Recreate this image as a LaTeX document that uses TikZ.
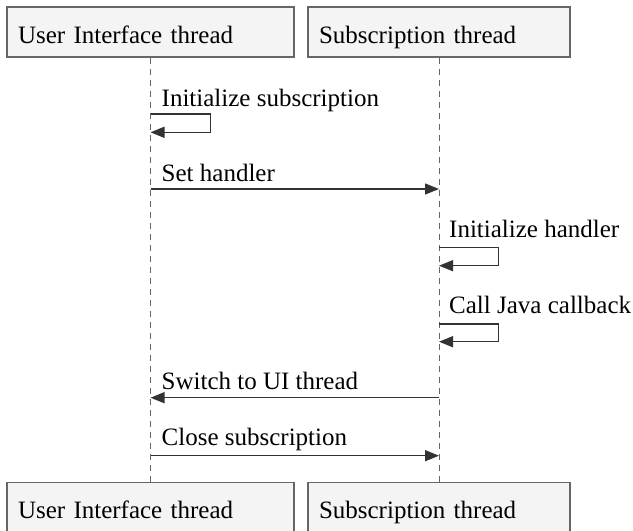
\documentclass[tikz,border=0pt]{standalone}
\usepackage{fontspec}
\setmainfont{Liberation Serif}
\usepackage{tikz}
\usetikzlibrary{arrows.meta,positioning}
\usepackage{xcolor}
\definecolor{boxfill}{HTML}{F4F4F4}
\definecolor{boxline}{HTML}{666666}
\definecolor{msgline}{HTML}{333333}

\begin{document}
\begin{tikzpicture}[
        x=1pt, y=-1pt,
        font=\fontsize{25}{30}\selectfont,
        actor/.style={rectangle, draw=boxline, fill=boxfill, line width=1.2pt, minimum height=50pt, text height=22pt, text depth=0pt, inner xsep=11pt, inner ysep=0pt, align=left},
        lifeline/.style={draw=boxline, line width=1pt, dash pattern=on 6pt off 5pt},
        msg/.style={-{Triangle[length=14pt, width=11pt]}, line width=1.5pt, color=msgline},
        msgtext/.style={anchor=base west, inner sep=0pt, text=black}
    ]
    
    \clip (0,0) rectangle (633,531);
    
    \node[actor, text width=265pt] (uiTop) at (150.5,32) {User Interface thread};
    \node[actor, text width=240pt] (subTop) at (439,32) {Subscription thread};
    \node[actor, text width=265pt] (uiBot) at (150.5,507.7) {User Interface thread};
    \node[actor, text width=240pt] (subBot) at (439,507.7) {Subscription thread};
    
    \draw[lifeline] (uiTop) -- (uiBot);
    \draw[lifeline] (subTop) -- (subBot);
    
    \coordinate (m1a) at (uiTop |- 0,114);
    \coordinate (m1b) at (uiTop |- 0,132.3);
    \coordinate (m2a) at (uiTop |- 0,189);
    \coordinate (m2b) at (subTop |- 0,189);
    \coordinate (m3a) at (subTop |- 0,247.7);
    \coordinate (m3b) at (subTop |- 0,265.7);
    \coordinate (m4a) at (subTop |- 0,324);
    \coordinate (m4b) at (subTop |- 0,341.7);
    \coordinate (m5a) at (subTop |- 0,397.7);
    \coordinate (m5b) at (uiTop |- 0,397.7);
    \coordinate (m6a) at (uiTop |- 0,455.7);
    \coordinate (m6b) at (subTop |- 0,455.7);
    
    \draw[msg] (m1a) -- ++(60,0) |- (m1b);
    \draw[msg] (m2a) -- (m2b);
    \draw[msg] (m3a) -- ++(59.5,0) |- (m3b);
    \draw[msg] (m4a) -- ++(59.5,0) |- (m4b);
    \draw[msg] (m5a) -- (m5b);
    \draw[msg] (m6a) -- (m6b);
    
    \node[msgtext] (initSub) at (161.5,106.7) {Initialize subscription};
    \node[msgtext] (setHandler) at (161.5,181.7) {Set handler};
    \node[msgtext] (initHandler) at (449,237.3) {Initialize handler};
    \node[msgtext] (callJava) at (449,313.3) {Call Java callback};
    \node[msgtext] (switchUi) at (161.5,389.3) {Switch to UI thread};
    \node[msgtext] (closeSub) at (161.5,445.7) {Close subscription};
    
    \end{tikzpicture}
\end{document}
